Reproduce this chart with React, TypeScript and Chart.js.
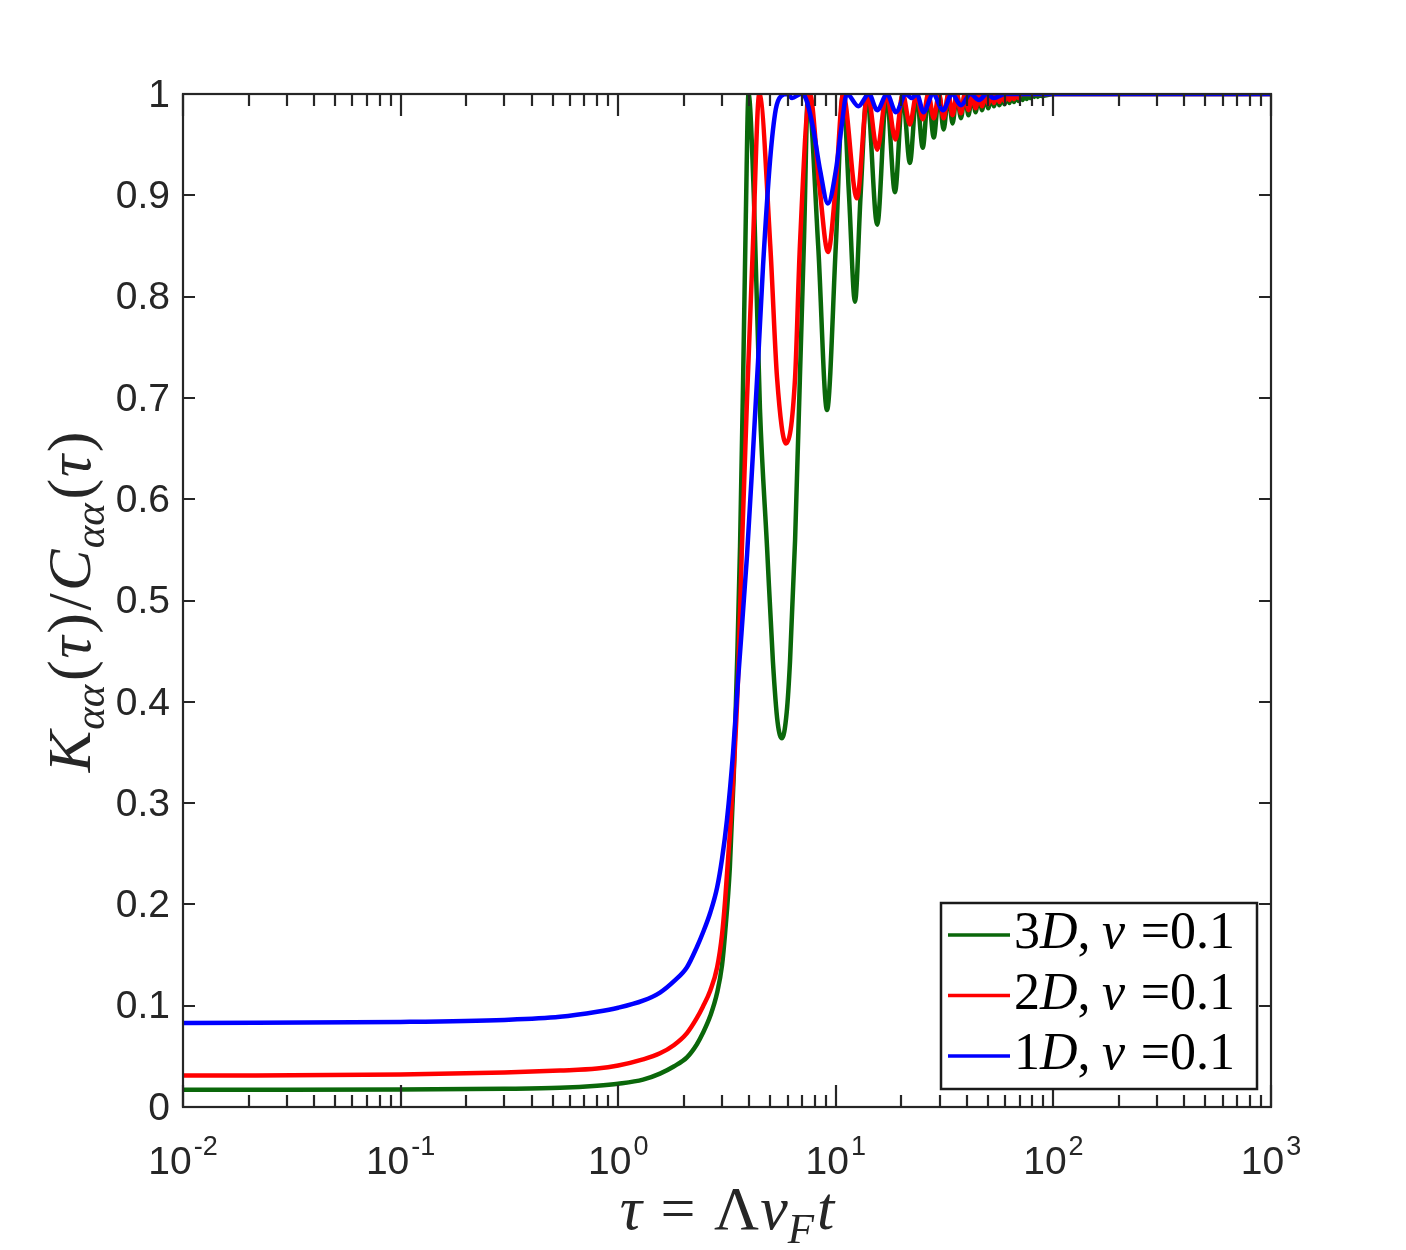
import { useEffect, useRef } from "react"
import { Chart, registerables } from "chart.js"

Chart.register(...registerables)

// 3D, nu = 0.1 (green)
const tau3D = [
  0.01, 0.03, 0.1, 0.3, 0.54, 0.8, 1.0, 1.3, 1.556, 1.8, 2.07, 2.3, 2.45, 2.65, 2.85, 3.0, 3.1, 3.26, 3.4,
  3.52, 3.63, 3.75, 3.86, 3.97,
  4.2, 4.48, 4.83, 5.14, 5.4, 5.66, 5.95, 6.16, 6.5, 6.84, 7.15, 7.45, 8.3, 9.11, 10.0, 10.8, 11.5, 12.25,
  13.0, 13.9, 15.5, 17.1, 18.7, 20.3, 21.9, 23.5, 25.1, 26.6, 28.2, 29.8, 31.3, 32.9, 34.4, 36.0, 37.6,
  39.2, 40.7, 42.3, 43.9, 45.5, 47.0, 48.6, 50.2, 51.8, 53.3, 54.9, 56.5, 58.1, 59.6, 61.2, 62.8, 64.4,
  65.9, 67.5, 69.1, 70.7, 72.2, 73.8, 75.4, 77.0, 78.5, 80.1, 81.7, 83.3, 84.8, 86.4, 88.0, 100, 1000,
]
const ratio3D = [
  0.017, 0.017, 0.0172, 0.018, 0.019, 0.021, 0.023, 0.027, 0.033, 0.04, 0.049, 0.062, 0.073, 0.09, 0.113, 0.14, 0.172, 0.237, 0.33,
  0.44, 0.553, 0.718, 0.88, 1.0,
  0.9, 0.69, 0.553, 0.44, 0.38, 0.364, 0.39, 0.44, 0.56, 0.72, 0.86, 1.0, 0.85, 0.688, 0.85, 1.0, 0.9, 0.795,
  0.9, 1.0, 0.871, 1.0, 0.903, 1.0, 0.932, 1.0, 0.947, 1.0, 0.957, 1.0, 0.965, 1.0, 0.971, 1.0, 0.976,
  1.0, 0.979, 1.0, 0.982, 1.0, 0.984, 1.0, 0.986, 1.0, 0.988, 1.0, 0.989, 1.0, 0.99, 1.0, 0.991, 1.0,
  0.992, 1.0, 0.993, 1.0, 0.994, 1.0, 0.995, 1.0, 0.996, 1.0, 0.997, 1.0, 0.997, 1.0, 0.998, 1.0, 1.0,
]

// 2D, nu = 0.1 (red)
const tau2D = [
  0.01, 0.1, 0.3, 0.54, 0.8, 1.0, 1.3, 1.556, 1.8, 2.07, 2.3, 2.45, 2.65, 2.85, 3.0, 3.1, 3.26, 3.37, 3.55,
  3.7, 3.91, 4.16, 4.45,
  5.0, 5.37, 5.91, 6.5, 6.84, 7.6, 8.4, 9.21, 10.0, 10.8, 12.5, 14.0, 15.5, 17.1, 18.8, 20.3, 21.9,
  23.5, 25.1, 26.6, 28.2, 29.8, 31.3, 32.9, 34.4, 36.0, 37.6, 39.2, 40.7, 42.3, 43.9, 45.5, 47.0,
  48.6, 50.2, 51.8, 53.3, 54.9, 56.5, 58.1, 59.6, 61.2, 62.8, 64.4, 65.9, 67.5, 69.1, 70.7, 1000,
]
const ratio2D = [
  0.031, 0.032, 0.034, 0.036, 0.038, 0.041, 0.047, 0.053, 0.061, 0.073, 0.088, 0.099, 0.115, 0.138, 0.17, 0.204, 0.27, 0.32, 0.42,
  0.55, 0.7, 0.85, 1.0,
  0.85, 0.72, 0.655, 0.72, 0.85, 1.0, 0.91, 0.844, 0.91, 1.0, 0.897, 1.0, 0.945, 1.0, 0.955, 1.0, 0.97,
  1.0, 0.975, 1.0, 0.976, 1.0, 0.976, 1.0, 0.979, 1.0, 0.981, 1.0, 0.984, 1.0, 0.986, 1.0, 0.988,
  1.0, 0.99, 1.0, 0.991, 1.0, 0.992, 1.0, 0.993, 1.0, 0.994, 1.0, 0.995, 1.0, 0.996, 1.0, 1.0,
]

// 1D, nu = 0.1 (blue)
const tau1D = [
  0.01, 0.1, 0.3, 0.54, 0.8, 1.0, 1.3, 1.556, 1.8, 2.07, 2.3, 2.45, 2.65, 2.85, 3.0, 3.16, 3.37, 3.55, 3.91,
  4.16, 4.39, 4.63, 4.99,
  5.3, 5.6, 6.0, 6.3, 6.9, 7.3, 7.87, 8.48, 9.2, 10.0, 10.6, 11.25, 12.7, 14.2, 15.5, 17.2, 18.9, 21.0,
  22.3, 23.6, 25.3, 28.0, 31.1, 34.2, 37.6, 41.6, 45.5, 49.5, 53.2, 60, 1000,
]
const ratio1D = [
  0.083, 0.084, 0.086, 0.089, 0.094, 0.098, 0.105, 0.113, 0.124, 0.138, 0.158, 0.172, 0.192, 0.217, 0.245, 0.283, 0.349, 0.42, 0.545,
  0.645, 0.735, 0.83, 0.935,
  0.985, 0.998, 1.0, 0.996, 1.0, 0.995, 0.966, 0.924, 0.892, 0.924, 0.966, 1.0, 0.988, 1.0, 0.984, 1.0, 0.982, 1.0,
  0.996, 1.0, 0.982, 1.0, 0.984, 1.0, 0.989, 1.0, 0.994, 1.0, 0.996, 1.0, 1.0,
]

const seriesDims = ["3", "2", "1"]
const seriesNu = "0.1"
const seriesColors = ["#0a670a", "#ff0000", "#0000ff"]

const yTickValues = [0, 0.1, 0.2, 0.3, 0.4, 0.5, 0.6, 0.7, 0.8, 0.9, 1]
const yTickLabels = ["0", "0.1", "0.2", "0.3", "0.4", "0.5", "0.6", "0.7", "0.8", "0.9", "1"]
const xDecades = [-2, -1, 0, 1, 2, 3]

const INK = "#262626"
const SANS = '"Liberation Sans", Arial, sans-serif'
const SERIF = '"Liberation Serif", "Times New Roman", serif'

type Piece = { t: string; it?: boolean; sub?: boolean; gap?: number }

function pieceFont(p: Piece, size: number) {
  return `${p.it ? "italic " : ""}${p.sub ? Math.round(size * 0.7) : size}px ${SERIF}`
}

function richWidth(ctx: CanvasRenderingContext2D, pieces: Piece[], size: number) {
  let w = 0
  for (const p of pieces) {
    ctx.font = pieceFont(p, size)
    w += ctx.measureText(p.t).width + (p.gap ?? 0) * size
  }
  return w
}

function drawRich(ctx: CanvasRenderingContext2D, pieces: Piece[], x: number, y: number, size: number) {
  let cx = x
  for (const p of pieces) {
    cx += (p.gap ?? 0) * size
    ctx.font = pieceFont(p, size)
    ctx.fillText(p.t, cx, p.sub ? y + size * 0.22 : y)
    cx += ctx.measureText(p.t).width
  }
}

const yTitle: Piece[] = [
  { t: "K", it: true }, { t: "αα", it: true, sub: true, gap: 0.02 }, { t: "(", gap: 0.06 }, { t: "τ", it: true, gap: 0.03 },
  { t: ")", gap: 0.04 }, { t: "/", gap: 0.04 }, { t: "C", it: true, gap: 0.04 }, { t: "αα", it: true, sub: true, gap: 0.02 },
  { t: "(", gap: 0.06 }, { t: "τ", it: true, gap: 0.03 }, { t: ")", gap: 0.04 },
]
const xTitle: Piece[] = [
  { t: "τ", it: true }, { t: "=", gap: 0.3 }, { t: "Λ", gap: 0.3 }, { t: "v", it: true, gap: 0.02 },
  { t: "F", it: true, sub: true }, { t: "t", it: true, gap: 0.05 },
]

function legendPieces(dim: string): Piece[] {
  return [
    { t: dim }, { t: "D", it: true }, { t: "," }, { t: "ν", it: true, gap: 0.22 },
    { t: "=", gap: 0.3 }, { t: seriesNu },
  ]
}

const framePlugin = {
  id: "matlabFrame",
  afterDraw(chart: Chart) {
    const { ctx, chartArea } = chart
    const { left, right, top, bottom } = chartArea
    const xs = chart.scales.x
    const ys = chart.scales.y
    ctx.save()
    ctx.strokeStyle = INK
    ctx.fillStyle = INK
    ctx.lineWidth = 2.2

    // ticks pointing inward on all four sides
    ctx.beginPath()
    for (const v of yTickValues) {
      const py = Math.round(ys.getPixelForValue(v))
      ctx.moveTo(left, py)
      ctx.lineTo(left + 12, py)
      ctx.moveTo(right, py)
      ctx.lineTo(right - 12, py)
    }
    xDecades.forEach((e, i) => {
      const px = Math.round(xs.getPixelForValue(Math.pow(10, e)))
      ctx.moveTo(px, bottom)
      ctx.lineTo(px, bottom - 22)
      ctx.moveTo(px, top)
      ctx.lineTo(px, top + 22)
      if (i < xDecades.length - 1) {
        for (let m = 2; m <= 9; m++) {
          const pm = Math.round(xs.getPixelForValue(m * Math.pow(10, e)))
          ctx.moveTo(pm, bottom)
          ctx.lineTo(pm, bottom - 12)
          ctx.moveTo(pm, top)
          ctx.lineTo(pm, top + 12)
        }
      }
    })
    ctx.stroke()
    ctx.strokeRect(left, top, right - left, bottom - top)

    // y tick labels
    ctx.font = `39px ${SANS}`
    ctx.textAlign = "right"
    ctx.textBaseline = "middle"
    yTickValues.forEach((v, i) => {
      ctx.fillText(yTickLabels[i], left - 13, ys.getPixelForValue(v) + 2)
    })

    // x tick labels 10^n
    ctx.textAlign = "left"
    ctx.textBaseline = "alphabetic"
    for (const e of xDecades) {
      const px = xs.getPixelForValue(Math.pow(10, e))
      ctx.font = `39px ${SANS}`
      const wb = ctx.measureText("10").width
      ctx.font = `27px ${SANS}`
      const exp = String(e)
      const we = ctx.measureText(exp).width
      const x0 = px - (wb + we + 2) / 2
      ctx.font = `39px ${SANS}`
      ctx.fillText("10", x0, 1174)
      ctx.font = `27px ${SANS}`
      ctx.fillText(exp, x0 + wb + 2, 1155)
    }

    // axis titles
    const tsize = 62
    const xw = richWidth(ctx, xTitle, tsize)
    drawRich(ctx, xTitle, (left + right) / 2 - xw / 2, 1229, tsize)

    ctx.save()
    ctx.translate(90, 602)
    ctx.rotate(-Math.PI / 2)
    const yw = richWidth(ctx, yTitle, tsize)
    drawRich(ctx, yTitle, -yw / 2, 0, tsize)
    ctx.restore()

    // legend box
    const lx = 941, ly = 903, lw = 316, lh = 186
    ctx.fillStyle = "#ffffff"
    ctx.fillRect(lx, ly, lw, lh)
    ctx.strokeStyle = "#1a1a1a"
    ctx.lineWidth = 2.5
    ctx.strokeRect(lx, ly, lw, lh)
    chart.data.datasets.forEach((ds, i) => {
      const rowY = 935 + i * 60.5
      ctx.strokeStyle = ds.borderColor as string
      ctx.lineWidth = 3.5
      ctx.beginPath()
      ctx.moveTo(948, rowY)
      ctx.lineTo(1010, rowY)
      ctx.stroke()
      ctx.fillStyle = "#000000"
      drawRich(ctx, legendPieces(seriesDims[i]), 1014, rowY + 13, 52)
    })
    ctx.restore()
  },
}

function zip(xs: number[], ys: number[]) {
  return xs.map((x, i) => ({ x, y: ys[i] }))
}

export default function App() {
  const chartRef = useRef<HTMLCanvasElement>(null)
  const chartInstance = useRef<Chart | null>(null)

  useEffect(() => {
    if (!chartRef.current) return
    if (chartInstance.current) chartInstance.current.destroy()
    const ctx = chartRef.current.getContext("2d")
    if (!ctx) return

    const series = [zip(tau3D, ratio3D), zip(tau2D, ratio2D), zip(tau1D, ratio1D)]

    chartInstance.current = new Chart(ctx, {
      type: "line",
      data: {
        datasets: series.map((data, i) => ({
          label: `${seriesDims[i]}D, ν =${seriesNu}`,
          data,
          borderColor: seriesColors[i],
          backgroundColor: seriesColors[i],
          borderWidth: 4.5,
          pointRadius: 0,
          cubicInterpolationMode: "monotone" as const,
          borderJoinStyle: "round" as const,
          fill: false,
          order: 3 - i,
        })),
      },
      options: {
        animation: false,
        responsive: false,
        devicePixelRatio: 1,
        events: [],
        layout: { padding: { left: 183, top: 94, right: 135, bottom: 143 } },
        plugins: {
          legend: { display: false },
          tooltip: { enabled: false },
        },
        scales: {
          x: { type: "logarithmic", min: 0.01, max: 1000, display: false },
          y: { type: "linear", min: 0, max: 1, display: false },
        },
      },
      plugins: [framePlugin],
    })

    return () => {
      if (chartInstance.current) {
        chartInstance.current.destroy()
        chartInstance.current = null
      }
    }
  }, [])

  return (
    <div style={{ position: "absolute", left: 0, top: 0, width: 1406, height: 1250, background: "#ffffff" }}>
      <canvas ref={chartRef} width={1406} height={1250}></canvas>
    </div>
  )
}
